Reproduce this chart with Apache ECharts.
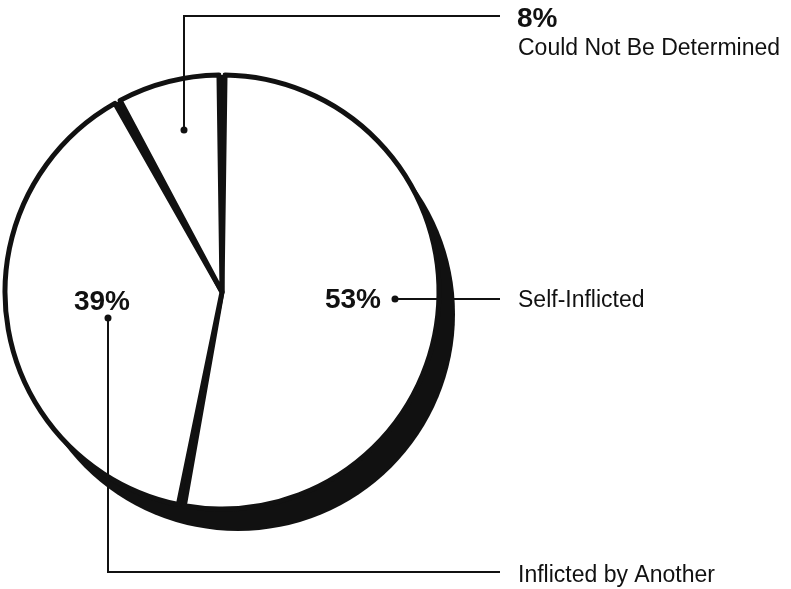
<!DOCTYPE html>
<html>
<head>
<meta charset="utf-8">
<script src="https://cdn.jsdelivr.net/npm/echarts@6/dist/echarts.min.js"></script>
<style>
	html, body { margin: 0; padding: 0; background: #fff; }
	#chart { width: 791px; height: 589px; }
</style>
</head>
<body>
<div id="chart"></div>
<script>
// data
var categories = ['Self-Inflicted', 'Inflicted by Another', 'Could Not Be Determined'];
var shares = [53, 39, 8];

// pie geometry
var pieCenter = [222, 292];
var pieRadius = 217;
var shadowShift = [16, 22];

// where each annotation sits: dot, leader path, label text
var notes = [
	{ dot: [395, 299], path: [[395, 299], [500, 299]], pct: [381, 300, 'right'], text: [518, 301] },
	{ dot: [108, 318], path: [[108, 318], [108, 572], [500, 572]], pct: [130, 302, 'right'], text: [518, 576] },
	{ dot: [184, 130], path: [[184, 130], [184, 16], [500, 16]], pct: [517, 19, 'left'], text: [518, 49] }
];

var ink = '#111';
var font = '"Liberation Sans", Arial, Helvetica, sans-serif';

function buildGraphic() {
	var els = [];
	for (var i = 0; i < categories.length; i++) {
		var n = notes[i];
		els.push({
			type: 'polyline', z: 10,
			shape: { points: n.path },
			style: { stroke: ink, lineWidth: 2, fill: null }
		});
		els.push({
			type: 'circle', z: 11,
			shape: { cx: n.dot[0], cy: n.dot[1], r: 3.5 },
			style: { fill: ink }
		});
		els.push({
			type: 'text', z: 11,
			style: {
				text: shares[i] + '%', x: n.pct[0], y: n.pct[1],
				align: n.pct[2], verticalAlign: 'middle',
				font: 'bold 28px ' + font, fill: ink
			}
		});
		els.push({
			type: 'text', z: 11,
			style: {
				text: categories[i], x: n.text[0], y: n.text[1],
				align: 'left', verticalAlign: 'middle',
				font: '23px ' + font, fill: ink
			}
		});
	}
	return els;
}

var pieData = [];
for (var i = 0; i < categories.length; i++) {
	pieData.push({ name: categories[i], value: shares[i] });
}

var chart = echarts.init(document.getElementById('chart'), null, { renderer: 'canvas' });
chart.setOption({
	animation: false,
	backgroundColor: '#fff',
	series: [
		// dark extrusion behind the pie
		{
			type: 'pie', silent: true, z: 1,
			center: [pieCenter[0] + shadowShift[0], pieCenter[1] + shadowShift[1]],
			radius: pieRadius,
			label: { show: false }, labelLine: { show: false },
			itemStyle: { color: ink },
			data: [{ name: 'shadow', value: 1 }]
		},
		// black backing so the gaps between slices read as dividers
		{
			type: 'pie', silent: true, z: 2,
			center: pieCenter,
			radius: pieRadius,
			label: { show: false }, labelLine: { show: false },
			itemStyle: { color: ink },
			data: [{ name: 'back', value: 1 }]
		},
		{
			type: 'pie', silent: true, z: 3,
			center: pieCenter,
			radius: pieRadius,
			startAngle: 90,
			clockwise: true,
			padAngle: 1.6,
			label: { show: false }, labelLine: { show: false },
			itemStyle: { color: '#fff', borderColor: ink, borderWidth: 5 },
			data: pieData
		}
	],
	graphic: buildGraphic()
});
</script>
</body>
</html>
